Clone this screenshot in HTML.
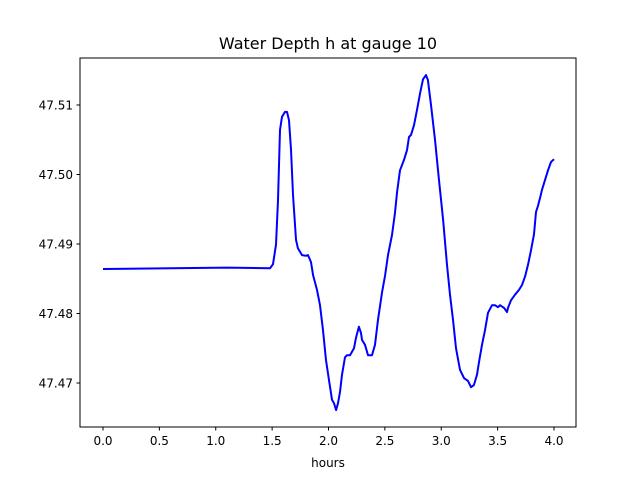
<!DOCTYPE html>
<html><head><meta charset="utf-8"><style>
body{margin:0;background:#fff;}
svg text{font-family:"DejaVu Sans","Liberation Sans",sans-serif;fill:#000;}
</style></head><body>
<svg id="chart" width="640" height="480" viewBox="0 0 640 480">
<rect width="640" height="480" fill="#fff"/>
<text x="328" y="49" font-size="16" text-anchor="middle">Water Depth h at gauge 10</text>
<g id="xticks"></g>
<g id="yticks"></g>
<path id="line" fill="none" stroke="#0000ff" stroke-width="2" stroke-linejoin="round"/>
<rect x="80" y="58" width="496" height="369" fill="none" stroke="#000" stroke-width="1"/>
<text x="328" y="467" font-size="12" text-anchor="middle">hours</text>
</svg>
<script>
const hours=[0,1.1,1.481,1.508,1.534,1.552,1.570,1.588,1.614,1.632,1.650,1.667,1.685,1.712,1.729,1.765,1.800,1.818,1.845,1.863,1.898,1.925,1.951,1.978,2.004,2.031,2.049,2.067,2.084,2.102,2.120,2.146,2.164,2.191,2.226,2.244,2.270,2.288,2.297,2.324,2.350,2.386,2.412,2.439,2.475,2.501,2.528,2.563,2.590,2.608,2.634,2.670,2.696,2.714,2.732,2.758,2.785,2.812,2.838,2.865,2.882,2.909,2.945,2.980,3.016,3.051,3.078,3.104,3.131,3.166,3.202,3.237,3.264,3.290,3.317,3.335,3.361,3.388,3.415,3.450,3.477,3.503,3.521,3.557,3.583,3.592,3.619,3.654,3.690,3.716,3.743,3.769,3.796,3.823,3.840,3.858,3.876,3.894,3.920,3.947,3.973,4.0];
const depth=[47.4864,47.4866,47.4865,47.4871,47.4899,47.4963,47.5064,47.5083,47.5090,47.5090,47.5078,47.5036,47.4971,47.4906,47.4894,47.4884,47.4883,47.4884,47.4874,47.4855,47.4834,47.4812,47.4776,47.4733,47.4704,47.4676,47.4671,47.4661,47.4671,47.4687,47.4712,47.4737,47.4740,47.4740,47.4750,47.4765,47.4781,47.4772,47.4762,47.4755,47.4740,47.4740,47.4755,47.4791,47.4831,47.4854,47.4884,47.4913,47.4945,47.4975,47.5006,47.5021,47.5035,47.5054,47.5057,47.5071,47.5093,47.5117,47.5137,47.5143,47.5136,47.5100,47.5050,47.4992,47.4935,47.4870,47.4827,47.4791,47.4750,47.4719,47.4707,47.4703,47.4694,47.4697,47.4712,47.4730,47.4755,47.4776,47.4801,47.4812,47.4812,47.4809,47.4812,47.4808,47.4802,47.4808,47.4819,47.4827,47.4834,47.4841,47.4853,47.4870,47.4891,47.4914,47.4946,47.4955,47.4966,47.4978,47.4992,47.5006,47.5018,47.5022];
const xTickVals=[0,0.5,1,1.5,2,2.5,3,3.5,4];
const xTickLabels=["0.0","0.5","1.0","1.5","2.0","2.5","3.0","3.5","4.0"];
const yTickVals=[47.47,47.48,47.49,47.50,47.51];
const yTickLabels=["47.47","47.48","47.49","47.50","47.51"];
const NS="http://www.w3.org/2000/svg";
function xs(h){return 103+h*112.75;}
function ys(v){return 105-(v-47.51)*6950;}
const xg=document.getElementById('xticks'),yg=document.getElementById('yticks');
xTickVals.forEach((t,i)=>{
  const l=document.createElementNS(NS,'line');
  l.setAttribute('x1',xs(t));l.setAttribute('x2',xs(t));l.setAttribute('y1',427);l.setAttribute('y2',430.5);l.setAttribute('stroke','#000');
  
  
  xg.appendChild(l);
  const tx=document.createElementNS(NS,'text');
  tx.setAttribute('x',xs(t));tx.setAttribute('y',445);tx.setAttribute('font-size','12');tx.setAttribute('text-anchor','middle');
  tx.textContent=xTickLabels[i];
  
  
  xg.appendChild(tx);
});
yTickVals.forEach((t,i)=>{
  const l=document.createElementNS(NS,'line');
  l.setAttribute('x1',76.5);l.setAttribute('x2',80);l.setAttribute('y1',ys(t));l.setAttribute('y2',ys(t));l.setAttribute('stroke','#000');
  
  
  yg.appendChild(l);
  const tx=document.createElementNS(NS,'text');
  tx.setAttribute('x',73);tx.setAttribute('y',ys(t)+4.5);tx.setAttribute('font-size','12');tx.setAttribute('text-anchor','end');
  tx.textContent=yTickLabels[i];
  
  
  yg.appendChild(tx);
});
document.getElementById('line').setAttribute('d',hours.map((h,i)=>(i?'L':'M')+xs(h).toFixed(1)+' '+ys(depth[i]).toFixed(1)).join(' '));
</script>
</body></html>
